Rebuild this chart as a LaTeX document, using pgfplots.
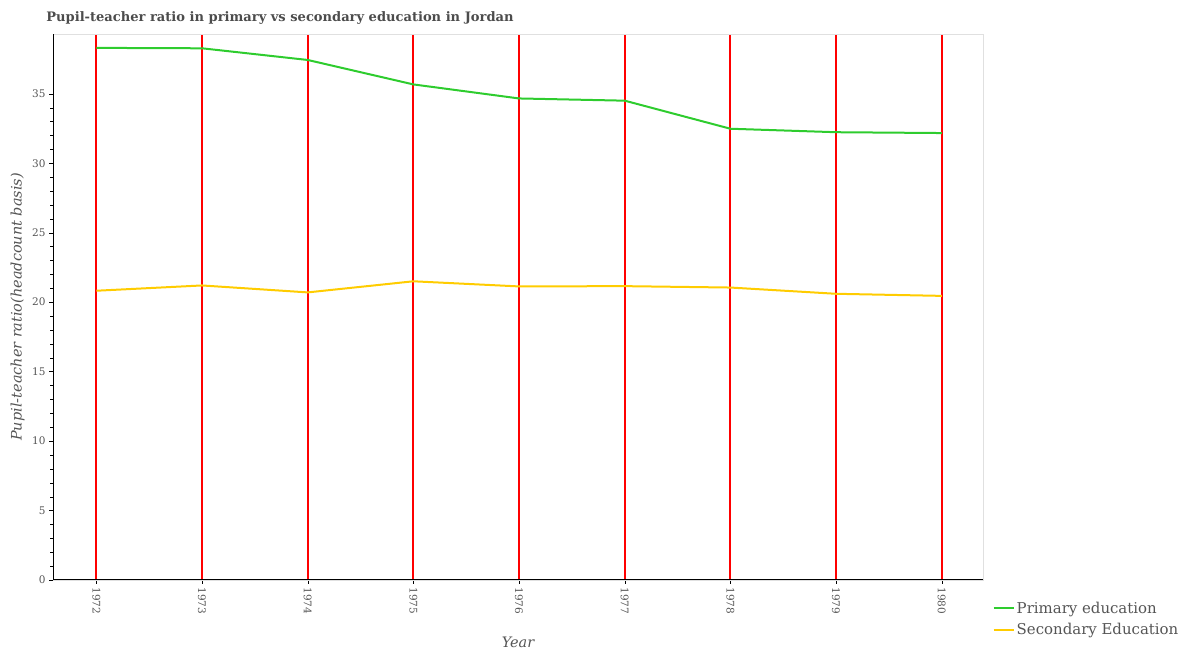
\documentclass[border=0pt]{standalone}
\usepackage{pgfplots}
\pgfplotsset{compat=1.18}
\usepackage{fontspec}
\setmainfont{DejaVu Serif}
\definecolor{prim}{RGB}{46,204,46}
\definecolor{sec}{RGB}{255,204,0}
\definecolor{txt}{RGB}{85,85,85}
\begin{document}
\begin{tikzpicture}[x=1bp,y=1bp]
\path[use as bounding box] (0,0) rectangle (1190,650);
\node[font=\fontsize{13.1}{16}\selectfont\bfseries, text=txt!90!black] at (280,632) {Pupil-teacher ratio in primary vs secondary education in Jordan};
\begin{axis}[
  at={(53bp,70bp)}, anchor=south west,
  scale only axis, width=930bp, height=546bp,
  xmin=1971.59, xmax=1980.39, ymin=0, ymax=39.3,
  xtick={1972,...,1980},
  xticklabels={1972,1973,1974,1975,1976,1977,1978,1979,1980},
  ytick={0,5,...,35},
  minor y tick num=4,
  tick align=outside, xtick pos=left, ytick pos=left,
  major tick length=4bp, minor tick length=3bp,
  tick style={black},
  axis line style={draw=black!12},
  xmajorgrids, major grid style={red, line width=2bp},
  /pgf/number format/assume math mode=true,
  ticklabel style={font=\fontsize{10.5}{12}\selectfont, text=txt},
  xticklabel style={rotate=-90, anchor=west},
  xlabel={Year}, ylabel={Pupil-teacher ratio(headcount basis)},
  every axis x label/.style={at={(axis description cs:0.5,-0.114)}, anchor=center, font=\fontsize{14.5}{16}\selectfont\itshape, text=txt},
  every axis y label/.style={at={(axis description cs:-0.038,0.5)}, anchor=center, rotate=90, font=\fontsize{14.5}{16}\selectfont\itshape, text=txt},
  legend style={at={(axis description cs:1.007,-0.032)}, anchor=north west, draw=none, fill=none,
    font=\fontsize{15}{17}\selectfont, text=txt, row sep=5bp},
  legend cell align=left,
  legend image code/.code={\draw[#1, line width=2bp] (0bp,0bp) -- (20bp,0bp);},
]
\addplot[prim, line width=2bp] coordinates {
(1972,38.3) (1973,38.27) (1974,37.43) (1975,35.67) (1976,34.66) (1977,34.5) (1978,32.48) (1979,32.23) (1980,32.17)};
\addlegendentry{Primary education}
\addplot[sec, line width=2bp] coordinates {
(1972,20.82) (1973,21.2) (1974,20.7) (1975,21.5) (1976,21.13) (1977,21.15) (1978,21.05) (1979,20.6) (1980,20.45)};
\addlegendentry{Secondary Education}
\draw[black, line width=1bp] (rel axis cs:0,0) -- (rel axis cs:1,0);
\draw[black, line width=1bp] (rel axis cs:0,0) -- (rel axis cs:0,1);
\end{axis}
\end{tikzpicture}
\end{document}
